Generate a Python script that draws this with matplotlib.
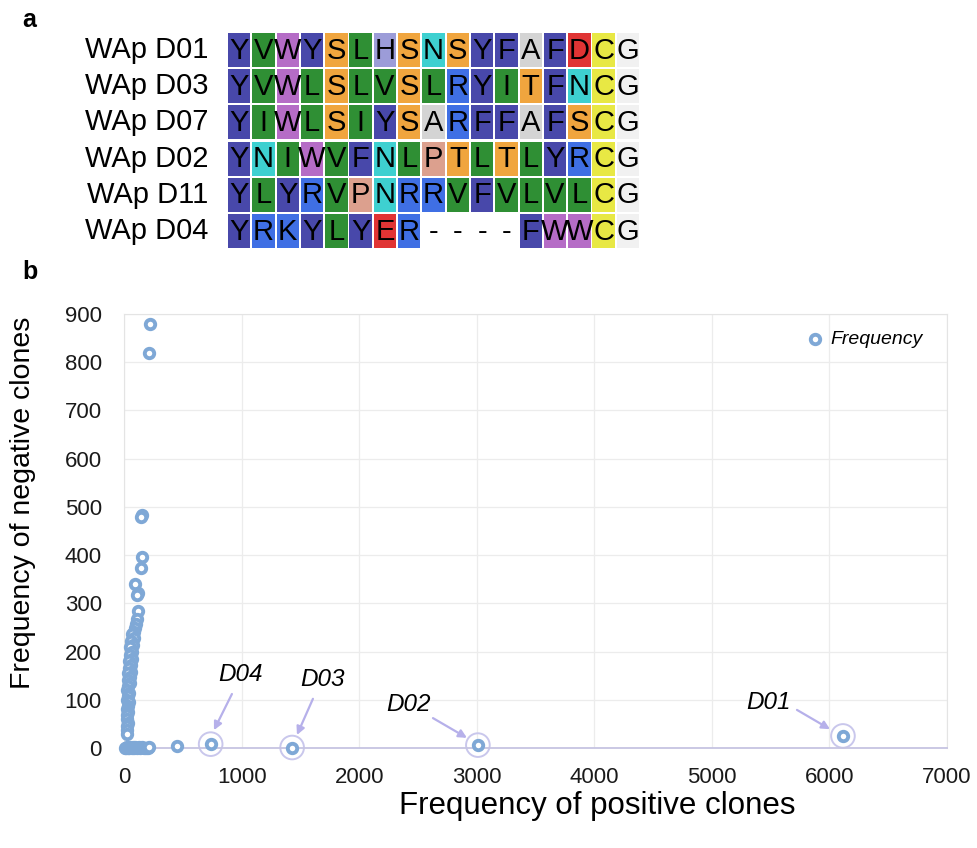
import matplotlib
matplotlib.use('Agg')
import matplotlib.pyplot as plt
from matplotlib.patches import Rectangle

plt.rcParams['font.family'] = ['Liberation Sans', 'DejaVu Sans']

# panel a: peptide alignment
names = ['WAp D01', 'WAp D03', 'WAp D07', 'WAp D02', 'WAp D11', 'WAp D04']
seqs = ['YVWYSLHSNSYFAFDCG',
        'YVWLSLVSLRYITFNCG',
        'YIWLSIYSARFFAFSCG',
        'YNIWVFNLPTLTLYRCG',
        'YLYRVPNRRVFVLVLCG',
        'YRKYLYER----FWWCG']

aa_colors = {'Y': '#4848aa', 'F': '#4848aa',
             'V': '#2f8f34', 'L': '#2f8f34', 'I': '#2f8f34',
             'W': '#b56cc6', 'S': '#f0a53e', 'T': '#f0a53e',
             'H': '#9c9cd8', 'N': '#3ed0d0', 'A': '#d4d4d4',
             'D': '#e03434', 'E': '#e03434', 'C': '#e8e844',
             'G': '#f1f1f1', 'R': '#3f6fe4', 'K': '#3f6fe4',
             'P': '#dca08e'}

# panel b: clone frequencies
pos_freq = [221, 213, 150, 145, 153, 145, 90, 115, 110, 117, 112, 105, 95, 82,
            70, 88, 60, 75, 50, 66, 55, 72, 45, 58, 40, 62, 35, 48, 30, 52, 38,
            28, 45, 33, 25, 40, 30, 22, 35, 28, 24, 32, 26, 22, 28,
            5, 15, 25, 35, 45, 55, 65, 75, 85, 95, 110, 125, 140, 155, 170,
            185, 200, 215, 451]
neg_freq = [879, 819, 483, 479, 397, 373, 340, 322, 318, 285, 268, 258, 248, 240,
            236, 228, 222, 213, 210, 200, 192, 185, 180, 172, 165, 158, 155, 148,
            140, 135, 128, 120, 115, 108, 100, 95, 88, 80, 75, 68, 60, 52, 45,
            38, 30,
            1, 0, 2, 1, 0, 2, 1, 3, 0, 2, 1, 3, 0, 2, 1, 0, 1, 2, 4]

hit_names = ['D04', 'D03', 'D02', 'D01']
hit_pos = [737, 1430, 3010, 6115]
hit_neg = [8, 1, 6, 25]

fig = plt.figure(figsize=(9.78, 8.48), dpi=100)
W, H = 978.0, 848.0

fig.text(22 / W, 1 - 20 / H, 'a', fontsize=18, fontweight='bold', va='center')
fig.text(22 / W, 1 - 272 / H, 'b', fontsize=18, fontweight='bold', va='center')

ax_a = fig.add_axes([227 / W, 1 - 249 / H, 17 * 24.3 / W, 217 / H])
ax_a.set_xlim(0, 17)
ax_a.set_ylim(6, 0)
ax_a.axis('off')
for i, (name, seq) in enumerate(zip(names, seqs)):
    ax_a.text(-0.78, i + 0.5, name, ha='right', va='center', fontsize=21)
    for j, aa in enumerate(seq):
        if aa in aa_colors:
            ax_a.add_patch(Rectangle((j + 0.04, i + 0.03), 0.92, 0.94,
                                     facecolor=aa_colors[aa], edgecolor='none'))
        ax_a.text(j + 0.5, i + 0.52, aa, ha='center', va='center', fontsize=21,
                  color='black', clip_on=False)

# scatter panel
ax = fig.add_axes([124 / W, 1 - 748 / H, 823 / W, 434 / H])
ax.set_xlim(0, 7000)
ax.set_ylim(0, 900)
ax.set_xticks(range(0, 7001, 1000))
ax.set_yticks(range(0, 901, 100))
ax.grid(True, color='#ececec', linewidth=0.9)
ax.set_axisbelow(True)
for side in ['top', 'right', 'left']:
    ax.spines[side].set_color('#e4e4e4')
ax.spines['bottom'].set_color('#c6c4e2')
ax.spines['bottom'].set_linewidth(1.3)
ax.tick_params(length=0, labelsize=16, labelcolor='#1a1a1a')
ax.tick_params(axis='x', pad=14)
ax.tick_params(axis='y', pad=16)

ring = '#7fa8d6'
ax.scatter(pos_freq + hit_pos, neg_freq + hit_neg, s=46, facecolors='white',
           edgecolors=ring, linewidths=2.8, zorder=3, clip_on=False,
           label='Frequency')
ax.scatter(hit_pos, hit_neg, s=290, facecolors='none', edgecolors='#c9c7ec',
           linewidths=1.4, zorder=2, clip_on=False)

# labels and arrows for selected clones
text_xy = [(987, 153), (1692, 143), (2424, 91), (5486, 95)]
arrow_from = [(918, 112), (1607, 102), (2628, 62), (5724, 79)]
arrow_to = [(765, 37), (1471, 27), (2917, 21), (6005, 39)]
for name, txy, a0, a1 in zip(hit_names, text_xy, arrow_from, arrow_to):
    ax.text(txy[0], txy[1], name, ha='center', va='center', fontsize=17.5,
            style='italic')
    ax.annotate('', xy=a1, xytext=a0,
                arrowprops=dict(arrowstyle='-|>', color='#b6b0ea', lw=1.6,
                                mutation_scale=12, shrinkA=0, shrinkB=0))

ax.set_xlabel('Frequency of positive clones', fontsize=22.5)
ax.xaxis.set_label_coords(0.575, -0.1)
ax.set_ylabel('Frequency of negative clones', fontsize=20.5)
ax.yaxis.set_label_coords(-0.123, 0.565)
ax.yaxis.label.set_va('center')

ax.legend(loc='center left', bbox_to_anchor=(805 / W, 1 - 339 / H),
          bbox_transform=fig.transFigure, frameon=False,
          prop={'style': 'italic', 'size': 14}, handlelength=1.0,
          handletextpad=0.3, borderpad=0, borderaxespad=0, scatterpoints=1)

fig.savefig('out.png', dpi=100, facecolor='white')
